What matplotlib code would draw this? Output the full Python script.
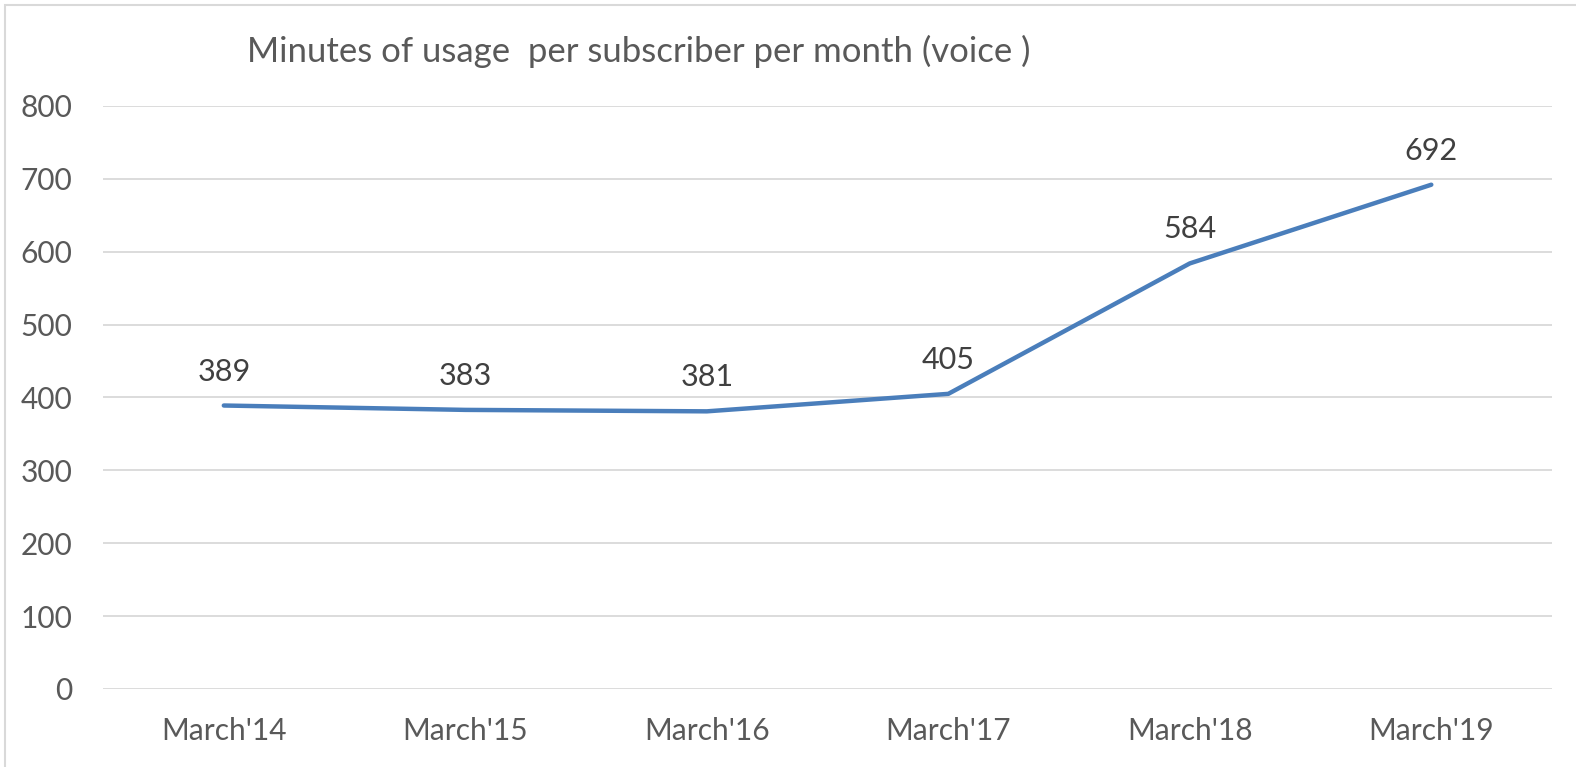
import matplotlib
matplotlib.use('Agg')
import matplotlib.pyplot as plt
from matplotlib.patches import Rectangle

categories = ["March'14", "March'15", "March'16", "March'17", "March'18", "March'19"]
minutes = [389, 383, 381, 405, 584, 692]
yticks = [0, 100, 200, 300, 400, 500, 600, 700, 800]

plt.rcParams['font.family'] = ['Lato', 'DejaVu Sans']

fig = plt.figure(figsize=(15.76, 7.67), dpi=100)
ax = fig.add_axes([0.0654, 0.1017, 0.9194, 0.7601])

x = list(range(len(categories)))
ax.plot(x, minutes, color='#4A7EBB', linewidth=3.2, solid_capstyle='round', zorder=3)
for xi, v in zip(x, minutes):
    ax.annotate(str(v), (xi, v), xytext=(0, 18), textcoords='offset points',
                ha='center', va='baseline', fontsize=22, color='#404040')

ax.set_xlim(-0.5, len(categories) - 0.5)
ax.set_ylim(0, 800)
ax.set_yticks(yticks)
ax.set_xticks(x)
ax.set_xticklabels(categories)
ax.grid(axis='y', color='#D9D9D9', linewidth=1.3)
ax.set_axisbelow(True)
for s in ax.spines.values():
    s.set_visible(False)
ax.tick_params(length=0, labelsize=21.5, labelcolor='#595959')
ax.tick_params(axis='y', pad=22)
ax.tick_params(axis='x', pad=20)

fig.text(0.157, 0.933, 'Minutes of usage  per subscriber per month (voice )',
         fontsize=25, color='#595959', ha='left', va='center')

fig.patches.append(Rectangle((5 / 1576, -0.01), 1.02, 1 - 5 / 767 + 0.01,
                             transform=fig.transFigure, fill=False,
                             edgecolor='#D9D9D9', linewidth=1.5))

fig.savefig('out.png', dpi=100)
